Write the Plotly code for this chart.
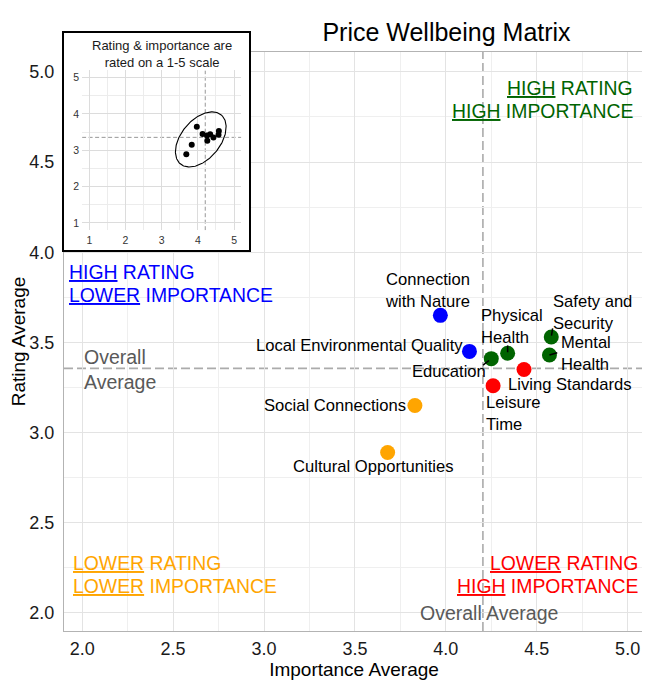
import numpy as np
import plotly.graph_objects as go

# values
domains = ["Connection with Nature", "Local Environmental Quality", "Social Connections",
           "Cultural Opportunities", "Education", "Physical Health", "Safety and Security",
           "Mental Health", "Living Standards", "Leisure Time"]
importance = [3.97, 4.13, 3.83, 3.68, 4.25, 4.34, 4.58, 4.57, 4.43, 4.26]
rating = [3.65, 3.45, 3.15, 2.89, 3.41, 3.44, 3.53, 3.43, 3.35, 3.26]

x_ticks = [2.0, 2.5, 3.0, 3.5, 4.0, 4.5, 5.0]
y_ticks = [2.0, 2.5, 3.0, 3.5, 4.0, 4.5, 5.0]
inset_ticks = [1, 2, 3, 4, 5]

# data ellipse of the inset: centre, semi axes, tilt (degrees)
ell_center = (4.08, 3.30)
ell_axes = (0.88, 0.54)
ell_angle = 50

FONT = "Liberation Sans, Arial, sans-serif"

imp_avg = float(np.mean(importance))
rat_avg = float(np.mean(rating))


def quadrant_colour(x, y):
    if y >= rat_avg:
        return "darkgreen" if x >= imp_avg else "blue"
    return "red" if x >= imp_avg else "orange"


colours = [quadrant_colour(x, y) for x, y in zip(importance, rating)]

# the page puts the figure 8px in from the top left corner
PAGE_OFF = 8
W, H = 642, 684
# plot area in page pixels
PX0, PX1, PY0, PY1 = 64, 644, 33, 631
L, T = PX0 - PAGE_OFF, PY0 - PAGE_OFF
R, B = PAGE_OFF + W - PX1, PAGE_OFF + H - PY1


def fx(px):
    return (px - PX0) / (PX1 - PX0)


def fy(py):
    return (PY1 - py) / (PY1 - PY0)


fig = go.Figure()

fig.add_trace(go.Scatter(x=importance, y=rating, mode="markers", text=domains,
                         hoverinfo="text", showlegend=False,
                         marker=dict(size=15, color=colours, line=dict(width=0))))

# empty trace so the inset frame subplot exists
fig.add_trace(go.Scatter(x=[None], y=[None], xaxis="x2", yaxis="y2", showlegend=False,
                         hoverinfo="skip"))

t = np.linspace(0, 2 * np.pi, 200)
th = np.radians(ell_angle)
ex = ell_center[0] + ell_axes[0] * np.cos(t) * np.cos(th) - ell_axes[1] * np.sin(t) * np.sin(th)
ey = ell_center[1] + ell_axes[0] * np.cos(t) * np.sin(th) + ell_axes[1] * np.sin(t) * np.cos(th)
fig.add_trace(go.Scatter(x=ex, y=ey, mode="lines", xaxis="x3", yaxis="y3",
                         line=dict(color="black", width=1.1), hoverinfo="skip",
                         showlegend=False))
fig.add_trace(go.Scatter(x=importance, y=rating, mode="markers", xaxis="x3", yaxis="y3",
                         marker=dict(size=6, color="black"), hoverinfo="skip",
                         showlegend=False))

# average lines
avg_line = dict(color="#ababab", width=1.6, dash="9px,4px")
fig.add_shape(type="line", xref="x", yref="paper", x0=imp_avg, x1=imp_avg,
              y0=0, y1=fy(52), line=avg_line, layer="below")
fig.add_shape(type="line", xref="paper", yref="y", x0=0, x1=1, y0=rat_avg, y1=rat_avg,
              line=avg_line, layer="below")
inset_line = dict(color="#8c8c8c", width=0.9, dash="4px,2.5px")
fig.add_shape(type="line", xref="x3", yref="y3", x0=imp_avg, x1=imp_avg, y0=0.8, y1=5.2,
              line=inset_line, layer="below")
fig.add_shape(type="line", xref="x3", yref="y3", x0=0.8, x1=5.2, y0=rat_avg, y1=rat_avg,
              line=inset_line, layer="below")

# point labels: anchor side, x offset, y offset of the text centre (px, down positive),
# segment tail (dx, dy, standoff)
label_pos = {
    "Connection with Nature": ("center", -13, -25, None),
    "Local Environmental Quality": ("right", -4.6, -5.7, None),
    "Social Connections": ("right", -7, 0, None),
    "Cultural Opportunities": ("center", -14, 14.3, None),
    "Education": ("right", -3.7, 12.4, (-9.7, 7.7, 3)),
    "Physical Health": ("left", -29, -26.5, (0, -9.3, 1)),
    "Safety and Security": ("left", -0.7, -24.2, (1.6, -10, 1.5)),
    "Mental Health": ("left", 9.4, -2, (9.3, -2.7, 0)),
    "Living Standards": ("left", -18.3, 15.5, None),
    "Leisure Time": ("left", -9.3, 27.8, None),
}
label_text = {
    "Connection with Nature": "Connection<br>with Nature",
    "Physical Health": "Physical<br>Health",
    "Safety and Security": "Safety and<br>Security",
    "Mental Health": "Mental<br>Health",
    "Leisure Time": "Leisure<br>Time",
}

anns = []
for name, x, y in zip(domains, importance, rating):
    side, dx, dy, seg = label_pos[name]
    anns.append(dict(x=x, y=y, xref="x", yref="y", text=label_text.get(name, name),
                     showarrow=False, xanchor=side, yanchor="middle", align=side,
                     xshift=dx, yshift=-dy,
                     font=dict(family=FONT, size=16.6, color="black")))
    if seg:
        anns.append(dict(x=x, y=y, xref="x", yref="y", text="", showarrow=True,
                         ax=seg[0], ay=seg[1], axref="pixel", ayref="pixel",
                         arrowhead=0, arrowwidth=1.5, arrowcolor="black", standoff=seg[2]))

# quadrant captions
quad = [
    (5.042, 4.910, "right", "darkgreen", "<u>HIGH</u> RATING"),
    (5.042, 4.784, "right", "darkgreen", "<u>HIGH</u> IMPORTANCE"),
    (1.917, 3.893, "left", "blue", "<u>HIGH</u> RATING"),
    (1.917, 3.764, "left", "blue", "<u>LOWER</u> IMPORTANCE"),
    (1.939, 2.278, "left", "orange", "<u>LOWER</u> RATING"),
    (1.939, 2.151, "left", "orange", "<u>LOWER</u> IMPORTANCE"),
    (5.068, 2.278, "right", "red", "<u>LOWER</u> RATING"),
    (5.068, 2.151, "right", "red", "<u>HIGH</u> IMPORTANCE"),
]
for x, y, side, col, txt in quad:
    anns.append(dict(x=x, y=y, xref="x", yref="y", text=txt, showarrow=False,
                     xanchor=side, yanchor="middle",
                     font=dict(family=FONT, size=19.4, color=col)))

avg_font = dict(family=FONT, size=19.5, color="#595959")
anns.append(dict(x=imp_avg, y=2.0, xref="x", yref="y", text="Overall Average",
                 showarrow=False, xanchor="center", yanchor="middle", xshift=6, font=avg_font))
anns.append(dict(x=2.0, y=rat_avg, xref="x", yref="y", text="Overall<br>Average",
                 showarrow=False, xanchor="left", yanchor="middle", align="left",
                 yshift=-1, font=avg_font))

# inset caption
anns.append(dict(x=fx(161.5), y=fy(53.8), xref="paper", yref="paper",
                 text="Rating & importance are<br>rated on a 1-5 scale",
                 showarrow=False, xanchor="center", yanchor="middle",
                 font=dict(family=FONT, size=13, color="#1a1a1a")))

tick_font = dict(family=FONT, size=18, color="#1a1a1a")
title_font = dict(family=FONT, size=19, color="black")
grid = dict(showgrid=True, gridcolor="#e3e3e3", gridwidth=1, zeroline=False, ticks="",
            showline=True, mirror=True, linecolor="#b3b3b3", linewidth=1,
            tickfont=tick_font, tickformat=".1f")
minor = dict(dtick=0.25, showgrid=True, gridcolor="#efefef", gridwidth=0.8)

inset_axis = dict(range=[0.8, 5.2], tickvals=inset_ticks, showgrid=True, gridcolor="#dcdcdc",
                  gridwidth=0.8, zeroline=False, ticks="", showline=False,
                  minor=dict(dtick=0.5, showgrid=True, gridcolor="#ececec", gridwidth=0.6),
                  tickfont=dict(family=FONT, size=10.5, color="#333333"),
                  ticklabelstandoff=2, fixedrange=True)
frame_axis = dict(range=[0, 1], showgrid=False, zeroline=False, showticklabels=False,
                  ticks="", showline=True, mirror=True, linecolor="black", linewidth=1.5,
                  fixedrange=True)

fig.update_layout(
    width=W, height=H,
    margin=dict(l=L, r=R, t=T, b=B),
    paper_bgcolor="white", plot_bgcolor="white",
    showlegend=False,
    title=dict(text="Price Wellbeing Matrix", x=(446.5 - PAGE_OFF) / W, xref="container",
               xanchor="center", y=1 - (32 - PAGE_OFF) / H, yref="container",
               yanchor="middle", font=dict(family=FONT, size=25, color="black")),
    xaxis=dict(grid, domain=[0, 1], range=[1.9, 5.09], tickvals=x_ticks, minor=minor,
               ticklabelstandoff=1,
               title=dict(text="Importance Average", font=title_font, standoff=0)),
    yaxis=dict(grid, domain=[0, fy(52)], range=[1.9, 5.11], tickvals=y_ticks, minor=minor,
               ticklabelstandoff=5,
               title=dict(text="Rating Average", font=title_font, standoff=0)),
    xaxis2=dict(frame_axis, domain=[0, fx(249)], anchor="y2"),
    yaxis2=dict(frame_axis, domain=[fy(250), 1], anchor="x2"),
    xaxis3=dict(inset_axis, domain=[fx(82.1), fx(241.3)], anchor="y3"),
    yaxis3=dict(inset_axis, domain=[fy(230.2), fy(70.4)], anchor="x3"),
    annotations=anns,
    hovermode="closest",
)

fig.write_html("out.html")
